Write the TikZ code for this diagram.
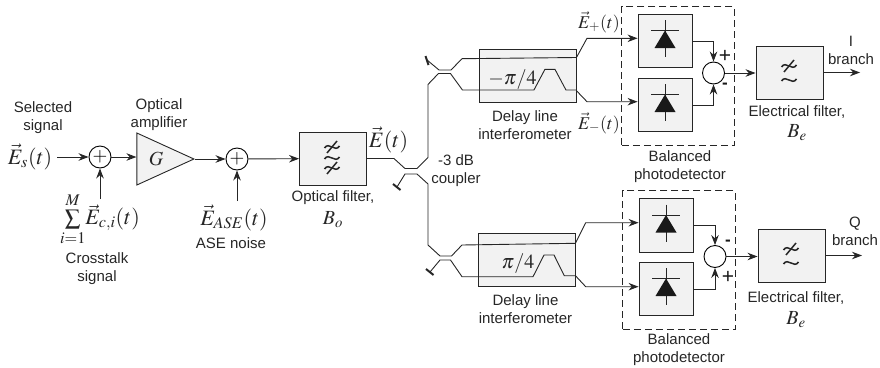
\documentclass[tikz,border=0pt]{standalone}
\usepackage{amsmath,amssymb}
\usepackage{mathptmx}
\usepackage{fontspec}
\setmainfont{Liberation Sans}
\usepackage{tikz}
\usetikzlibrary{shapes.geometric,arrows.meta,positioning,calc}
\definecolor{colBox}{gray}{0.95}
\definecolor{colLine}{gray}{0.15}
\tikzset{
  block/.style  = {rectangle, draw=colLine, fill=colBox, line width=0.9pt,
                   inner sep=0pt, minimum width=67pt, minimum height=53pt},
  pdblock/.style = {block, minimum width=54pt, minimum height=53.5pt},
  dliblock/.style = {block, minimum width=97pt, minimum height=53pt},
  dashbox/.style = {rectangle, draw=colLine, dashed, line width=0.8pt, inner sep=0pt,
                    dash pattern=on 7pt off 4pt,
                    minimum width=112.5pt, minimum height=138.5pt},
  adder/.style  = {circle, draw=black, fill=white, line width=0.9pt, inner sep=0pt,
                   minimum size=22pt},
  plus/.style   = {font=\fontsize{19}{19}\selectfont, inner sep=0pt},
  lbl/.style    = {font=\fontsize{15}{18}\selectfont, align=center, text=black!85, inner sep=0pt},
  mth/.style    = {font=\fontsize{22}{24}\selectfont, inner sep=0pt, text=black!85},
  bth/.style    = {font=\fontsize{20}{24}\selectfont, inner sep=0pt, text=black!85},
  eth/.style    = {font=\fontsize{18}{24}\selectfont, inner sep=0pt, text=black!85},
  sgn/.style    = {font=\fontsize{21}{21}\selectfont, inner sep=0pt, text=black!90},
  msgn/.style   = {font=\fontsize{17}{17}\selectfont\bfseries, inner sep=0pt, text=black!90},
  arr/.style    = {-{Stealth[length=10pt,width=7.5pt]}, line width=0.9pt, draw=colLine},
  guide/.style  = {line width=0.9pt, draw=colLine},
  stopend/.style = {line width=2pt, draw=colLine},
  wavy/.style   = {line width=1.5pt, draw=colLine},
}
\begin{document}
\begin{tikzpicture}[x=1pt, y=-1pt]
\useasboundingbox (0,0) rectangle (880,367);

%% Front end -- signal, crosstalk, amplifier, noise
\node[lbl] (sel_lbl) at (43,118) {Selected\\signal};
\node[mth] (es) at (30,157) {$\vec{E}_s(t)$};
\node[adder] (add_x) at (100,157) {};
\node[plus] (add_xp) at (add_x) {$+$};
\node[mth] (xt) at (100,219) {$\sum\limits_{i=1}^{M}\!\vec{E}_{c,i}(t)$};
\node[lbl] (xt_lbl) at (97,269) {Crosstalk\\signal};
\node[lbl] (amp_lbl) at (159,114.5) {Optical\\amplifier};
\node[isosceles triangle, isosceles triangle apex angle=49, draw=colLine, fill=colBox,
      line width=0.9pt, inner sep=0pt, minimum height=57pt, minimum width=52pt,
      anchor=apex] (amp) at (195,159) {};
\node[bth] (amp_g) at (156,159) {$G$};
\node[adder] (add_n) at (237,159) {};
\node[plus] (add_np) at (add_n) {$+$};
\node[mth] (ase) at (234,218) {$\vec{E}_{ASE}(t)$};
\node[lbl] (ase_lbl) at (231,243) {ASE noise};

%% Optical filter
\node[block] (optf) at (333,158.5) {};
\coordinate (optf_w1) at (332,147);
\coordinate (optf_w2) at (332,158);
\coordinate (optf_w3) at (332,168);
\node[lbl] (optf_lbl) at (333,198) {Optical filter,};
\node[bth] (optf_b) at (333,220) {$B_o$};
\node[mth] (et) at (388.5,140) {$\vec{E}(t)$};
\node[lbl] (cpl_lbl) at (456,171) {-3 dB\\coupler};

%% Delay line interferometers
\node[dliblock] (dli_i) at (527.5,75.5) {};
\node[bth] (dli_ip) at (512.5,80) {$-\pi/4$};
\node[lbl] (dli_il) at (525,125) {Delay line\\interferometer};
\node[dliblock] (dli_q) at (526.5,260) {};
\node[bth] (dli_qp) at (518,264) {$\pi/4$};
\node[lbl] (dli_ql) at (525.5,309) {Delay line\\interferometer};
\node[eth, anchor=east] (ep) at (620,22) {$\vec{E}_{+}(t)$};
\node[eth, anchor=east] (em) at (620,123) {$\vec{E}_{-}(t)$};

%% Balanced photodetectors
\node[dashbox] (bal_i) at (678,76) {};
\node[pdblock] (pd_i1) at (665,41) {};
\node[pdblock] (pd_i2) at (665,105) {};
\node[adder] (sub_i) at (713.5,73) {};
\node[sgn] (sub_ip) at (725,56) {+};
\node[msgn] (sub_im) at (725,86) {-};
\node[lbl] (bal_il) at (680,167) {Balanced\\photodetector};
\node[dashbox] (bal_q) at (679,260) {};
\node[pdblock] (pd_q1) at (666,225.5) {};
\node[pdblock] (pd_q2) at (666,289) {};
\node[adder] (sub_q) at (715,256.5) {};
\node[msgn] (sub_qm) at (728,243) {-};
\node[sgn] (sub_qp) at (728,277) {+};
\node[lbl] (bal_ql) at (679,350) {Balanced\\photodetector};

%% Electrical filters
\node[block] (ef_i) at (789.5,72.5) {};
\coordinate (ef_iw1) at (789,66);
\coordinate (ef_iw2) at (789,80);
\node[lbl] (ef_il) at (797,112) {Electrical filter,};
\node[bth] (ef_ib) at (797,133) {$B_e$};
\node[block] (ef_q) at (791.5,255.5) {};
\coordinate (ef_qw1) at (791,249);
\coordinate (ef_qw2) at (791,263);
\node[lbl] (ef_ql) at (796,298) {Electrical filter,};
\node[bth] (ef_qb) at (796,320) {$B_e$};
\node[lbl] (out_i) at (851,50) {I\\branch};
\node[lbl] (out_q) at (855,231.5) {Q\\branch};
\coordinate (out_ie) at (860,72.5);
\coordinate (out_qe) at (862,255.5);

%% Filter symbols
\foreach \w in {optf_w1,optf_w2,optf_w3,ef_iw1,ef_iw2,ef_qw1,ef_qw2} {
  \draw[wavy] ([shift={(-7.5pt,-1pt)}]\w) .. controls ([shift={(-3pt,6pt)}]\w)
        and ([shift={(3pt,-6pt)}]\w) .. ([shift={(7.5pt,1pt)}]\w);
}
\foreach \w in {optf_w1,optf_w3,ef_iw1,ef_qw1} {
  \draw[wavy] ([shift={(-5pt,-6pt)}]\w) -- ([shift={(5pt,6pt)}]\w);
}

%% Diodes
\foreach \pd in {pd_i1,pd_i2,pd_q1,pd_q2} {
  \draw[guide] ([yshift=21pt]\pd.center) -- ([yshift=-16pt]\pd.center);
  \draw[guide] ([shift={(-14pt,10.5pt)}]\pd.center) -- ([shift={(14pt,10.5pt)}]\pd.center);
  \fill[black!90] ([yshift=10.5pt]\pd.center) -- ([shift={(10.5pt,-7pt)}]\pd.center)
        -- ([shift={(-10.5pt,-7pt)}]\pd.center) -- cycle;
}

%% Arrows: front end
\draw[arr] (57,157) -- (add_x);
\draw[arr] (add_x) -- (amp.left corner |- add_x);
\draw[arr] (100,199) -- (add_x);
\draw[arr] (amp.apex) -- (add_n);
\draw[arr] (237,201) -- (add_n);
\draw[arr] (add_n) -- (optf);

%% Waveguides: couplers and interferometers
\coordinate (stop_a) at (427,60);
\coordinate (stop_b) at (397,187);
\coordinate (stop_c) at (430,272);
\draw[stopend] (stop_a)+(-1.5,-4) -- +(1.5,5);
\draw[stopend] (stop_b)+(-4,-3) -- +(3.5,3);
\draw[stopend] (stop_c)+(-4,-3) -- +(3.5,3);
\draw[guide] (optf.east) -- ++(27,0) -- ++(11,10) -- ++(12,0) -- ++(11,-11) -- ++(0,-73)
             -- ++(10.5,-11) -- ++(12,0) -- ++(12,16.5) -- ++(71.5,0) -- ++(11,-20.7)
             -- ++(10,0) -- ++(11,20.7) -- ++(11,0);
\draw[guide] (stop_b) -- ++(8,-13) -- ++(12,0) -- ++(11,10) -- ++(0,61) -- ++(12,11)
             -- ++(11.5,0) -- ++(10.5,-11) -- (dli_q.east |- 0,243.3);
\draw[guide] (stop_a) -- ++(12,10) -- ++(12,0) -- ++(11,-11.3) -- (dli_i.east |- 0,57.5);
\draw[guide] (stop_c) -- ++(10,-12) -- ++(10.5,0) -- ++(11.5,16.7) -- ++(71,0) -- ++(11,-21.7)
             -- ++(10,0) -- ++(10.3,20.7) -- ++(10.7,0);
\draw[arr] (dli_i.east |- 0,57.5) -- (587,38.3) -- (pd_i1.west |- 0,38.3);
\draw[arr] (dli_i.east |- 0,90.7) -- (587,101.7) -- (pd_i2.west |- 0,101.7);
\draw[arr] (dli_q.east |- 0,243.3) -- (585.7,222.7) -- (pd_q1.west |- 0,222.7);
\draw[arr] (dli_q.east |- 0,275.7) -- (585.7,286.7) -- (pd_q2.west |- 0,286.7);

%% Arrows: detectors and outputs
\draw[arr] (pd_i1.east) -| (sub_i.north);
\draw[arr] (pd_i2.east) -| (sub_i.south);
\draw[arr] (sub_i.east) -- (ef_i.west |- sub_i);
\draw[arr] (ef_i.east) -- (out_ie);
\draw[arr] (pd_q1.east) -| (sub_q.north);
\draw[arr] (pd_q2.east) -| (sub_q.south);
\draw[arr] (sub_q.east) -- (ef_q.west |- sub_q);
\draw[arr] (ef_q.east) -- (out_qe);

\end{tikzpicture}
\end{document}
